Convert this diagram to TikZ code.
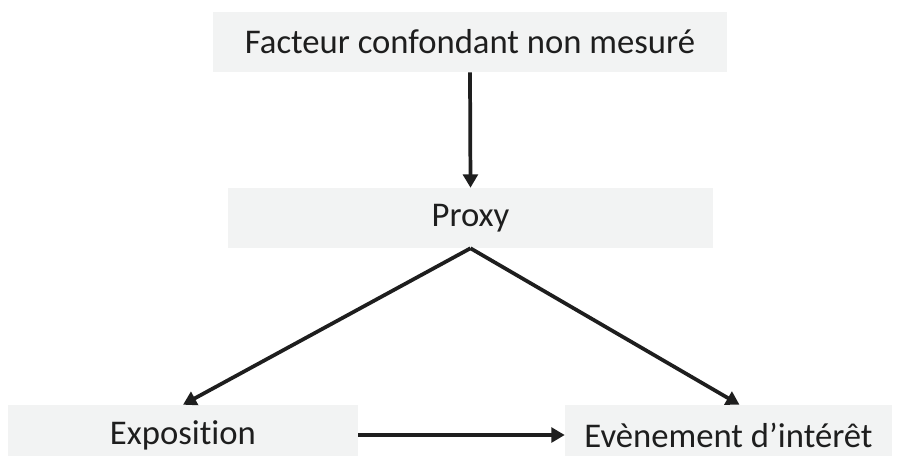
\documentclass[tikz,border=0pt]{standalone}
\usepackage{fontspec}
\setmainfont{Carlito}[Ligatures={NoCommon}]
\usetikzlibrary{arrows.meta}
\definecolor{boxfill}{RGB}{242,243,243}
\definecolor{ink}{RGB}{30,30,30}
\tikzset{
  box/.style={fill=boxfill, draw=none, inner sep=0pt, text=ink, font=\fontsize{26}{30}\selectfont},
  conn/.style={draw=ink, line width=2.8pt, -{Triangle[length=10pt,width=11pt]}}
}
\begin{document}
\begin{tikzpicture}[x=0.75pt,y=-0.75pt]
\clip (0,0) rectangle (901,455);
\fill[white] (0,0) rectangle (901,455);
\node[box, minimum width=514*0.75pt, minimum height=60*0.75pt] (top) at (470,42) {Facteur confondant non mesuré};
\node[box, minimum width=485*0.75pt, minimum height=60*0.75pt] (proxy) at (470.5,218) {Proxy};
\node[box, minimum width=350*0.75pt, minimum height=60*0.75pt] (expo) at (183,435) {Exposition};
\node[box, minimum width=327*0.75pt, minimum height=60*0.75pt] (event) at (728.5,435) {Evènement d’intérêt};
\draw[conn] (top.south) -- (proxy.north);
\draw[conn] (proxy.south) -- (expo.north);
\draw[conn] (proxy.south) -- ([xshift=11*0.75pt]event.north);
\draw[conn] (expo.east) -- (event.west);
\end{tikzpicture}
\end{document}
